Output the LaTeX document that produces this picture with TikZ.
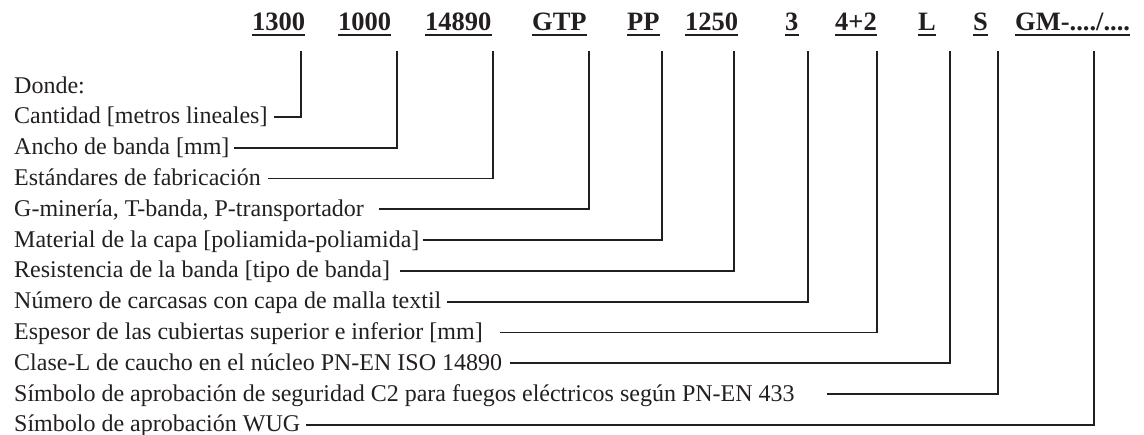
\documentclass[tikz,border=0pt]{standalone}
\usepackage{fontspec}
\setmainfont{Liberation Serif}
\definecolor{ink}{RGB}{35,31,32}
\begin{document}
\begin{tikzpicture}[x=1pt,y=-1pt,
  conn/.style={line width=1.8pt, draw=ink},
  lab/.style={font=\fontsize{26.5}{30}\selectfont\bfseries, inner sep=0pt, anchor=base west, text=ink},
  rowtext/.style={font=\fontsize{24}{28}\selectfont, inner sep=0pt, anchor=base west, text=ink}]
\useasboundingbox (0,0) rectangle (1144,435);
% top code labels
\node[lab] (l1)  at (252,31)  {1300};
\node[lab] (l2)  at (338,31)  {1000};
\node[lab] (l3)  at (425,31)  {14890};
\node[lab] (l4)  at (532,31)  {GTP};
\node[lab] (l5)  at (627,31)  {PP};
\node[lab] (l6)  at (685,31)  {1250};
\node[lab] (l7)  at (785,31)  {3};
\node[lab] (l8)  at (835,31)  {4+2};
\node[lab] (l9)  at (918,31)  {L};
\node[lab] (l10) at (973,31)  {S};
\node[lab] (l11) at (1015,31) {GM-..../....};
\foreach \n in {l1,l2,l3,l4,l5,l6,l7,l8,l9,l10,l11}
  \draw[conn] ([yshift=-4pt]\n.base west) -- ([yshift=-4pt]\n.base east);
% tops of the leader lines
\coordinate (k1)  at (301,51);
\coordinate (k2)  at (397,51);
\coordinate (k3)  at (493,51);
\coordinate (k4)  at (589,51);
\coordinate (k5)  at (662,51);
\coordinate (k6)  at (734,51);
\coordinate (k7)  at (808,51);
\coordinate (k8)  at (877,51);
\coordinate (k9)  at (950,51);
\coordinate (k10) at (998,51);
\coordinate (k11) at (1094,51);
% row texts (baseline = leader height + 7)
\node[rowtext] (r0)  at (14,93.2)  {Donde:};
\node[rowtext] (r1)  at (14,124)   {Cantidad [metros lineales]};
\node[rowtext] (r2)  at (14,154.8) {Ancho de banda [mm]};
\node[rowtext] (r3)  at (14,185.6) {Estándares de fabricación};
\node[rowtext] (r4)  at (14,216.4) {G-minería, T-banda, P-transportador};
\node[rowtext] (r5)  at (14,247.2) {Material de la capa [poliamida-poliamida]};
\node[rowtext] (r6)  at (14,278)   {Resistencia de la banda [tipo de banda]};
\node[rowtext] (r7)  at (14,308.8) {Número de carcasas con capa de malla textil};
\node[rowtext] (r8)  at (14,339.6) {Espesor de las cubiertas superior e inferior [mm]};
\node[rowtext] (r9)  at (14,370.4) {Clase-L de caucho en el núcleo PN-EN ISO 14890};
\node[rowtext] (r10) at (14,401.2) {Símbolo de aprobación de seguridad C2 para fuegos eléctricos según PN-EN 433};
\node[rowtext] (r11) at (14,432)   {Símbolo de aprobación WUG};
% connectors
\draw[conn] ([xshift=6pt,yshift=7pt]r1.base east)  -| (k1);
\draw[conn] ([xshift=4pt,yshift=7pt]r2.base east)  -| (k2);
\draw[conn] ([xshift=7pt,yshift=7pt]r3.base east)  -| (k3);
\draw[conn] ([xshift=15pt,yshift=7pt]r4.base east) -| (k4);
\draw[conn] ([xshift=3pt,yshift=7pt]r5.base east)  -| (k5);
\draw[conn] ([xshift=10pt,yshift=7pt]r6.base east) -| (k6);
\draw[conn] ([xshift=5pt,yshift=7pt]r7.base east)  -| (k7);
\draw[conn] ([xshift=17pt,yshift=7pt]r8.base east) -| (k8);
\draw[conn] ([xshift=8pt,yshift=7pt]r9.base east)  -| (k9);
\draw[conn] ([xshift=32pt,yshift=7pt]r10.base east) -| (k10);
\draw[conn] ([xshift=6pt,yshift=7pt]r11.base east) -| (k11);
\end{tikzpicture}
\end{document}
